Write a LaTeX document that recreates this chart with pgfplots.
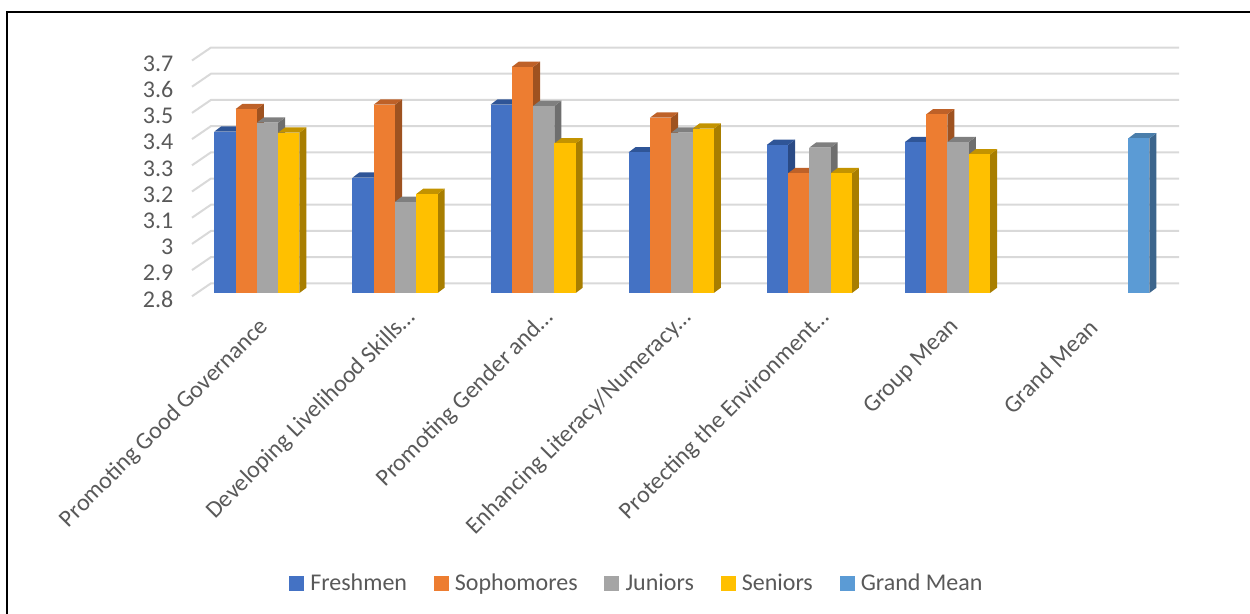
\documentclass[border=0pt]{standalone}
\usepackage{pgfplots}
\pgfplotsset{compat=1.18}
\usepackage{fontspec}
\setmainfont{Carlito}
\definecolor{txt}{HTML}{595959}
\definecolor{gridc}{HTML}{D9D9D9}
\definecolor{blueF}{HTML}{4472C4}\definecolor{blueS}{HTML}{2A4A85}\definecolor{blueT}{HTML}{2F5597}
\definecolor{oranF}{HTML}{ED7D31}\definecolor{oranS}{HTML}{9E5220}\definecolor{oranT}{HTML}{BE6128}
\definecolor{grayF}{HTML}{A5A5A5}\definecolor{grayS}{HTML}{6E6E6E}\definecolor{grayT}{HTML}{7F7F7F}
\definecolor{yellF}{HTML}{FFC000}\definecolor{yellS}{HTML}{A87E00}\definecolor{yellT}{HTML}{C39300}
\definecolor{skyF}{HTML}{5B9BD5}\definecolor{skyS}{HTML}{3C658C}\definecolor{skyT}{HTML}{4A7EAB}

% depth of a bar and its width, in axis units
\def\dX{0.0507}
\def\dY{0.0202}
\def\wX{0.1542}
% truncated category names reach a little further towards the axis
\newcommand{\trunc}{…\kern-9.75pt}

% one bar: #1 left edge, #2 value, #3 front colour, #4 side colour, #5 top colour
\newcommand{\prismbar}[5]{%
  \pgfmathsetmacro{\xa}{#1}%
  \pgfmathsetmacro{\xb}{#1+\wX}%
  \pgfmathsetmacro{\xc}{#1+\wX+\dX}%
  \pgfmathsetmacro{\xd}{#1+\dX}%
  \pgfmathsetmacro{\ya}{#2+\dY}%
  \pgfmathsetmacro{\yb}{2.8+\dY}%
  \addplot[fill=#4,draw=none,forget plot] coordinates {(\xb,2.8) (\xc,\yb) (\xc,\ya) (\xb,#2)} -- cycle;
  \addplot[fill=#5,draw=none,forget plot] coordinates {(\xa,#2) (\xd,\ya) (\xc,\ya) (\xb,#2)} -- cycle;
  \addplot[fill=#3,draw=none,forget plot] coordinates {(\xa,2.8) (\xa,#2) (\xb,#2) (\xb,2.8)} -- cycle;
}
% one series: #1 position within the group, #2-#4 colours, #5 values by category
\newcommand{\seriesbars}[5]{%
  \foreach \v [count=\c from 0] in {#5}{%
    \prismbar{\c+0.1143+#1*\wX}{\v}{#2}{#3}{#4}%
  }%
}
% one wall gridline with its short slanted floor-side stub
\newcommand{\wallgrid}[1]{%
  \pgfmathsetmacro{\yf}{#1-0.0126}%
  \pgfmathsetmacro{\yw}{#1+0.037}%
  \addplot[gridc,line width=1.5pt,forget plot] coordinates {(-0.047,\yf) (0.0904,\yw) (7.099,\yw)};
}

\pgfplotsset{
  legend image code/.code={\fill[#1] (0pt,-5.25pt) rectangle (10.5pt,5.25pt);},
}

\begin{document}
\begin{tikzpicture}
\useasboundingbox (0,0) rectangle (937.5pt,460.5pt);
\draw[black,line width=1.7pt] (5.25pt,0) -- (5.25pt,451.5pt) -- (937.5pt,451.5pt);
\begin{axis}[
  at={(144pt,240.75pt)},anchor=south west,
  scale only axis,
  width=740.25pt,height=184.5pt,
  xmin=-0.047,xmax=7.099,ymin=2.8,ymax=3.739,
  clip=false,
  xtick={0.5,1.5,2.5,3.5,4.5,5.5,6.5},
  xticklabels={Promoting Good Governance,Developing Livelihood Skills\trunc,Promoting Gender and\trunc,Enhancing Literacy/Numeracy\trunc,Protecting the Environment\trunc,Group Mean,Grand Mean},
  ytick={2.8,2.9,3.0,3.1,3.2,3.3,3.4,3.5,3.6,3.7},
  yticklabels={2.8,2.9,3,3.1,3.2,3.3,3.4,3.5,3.6,3.7},
  tick style={draw=none},
  major tick length=0pt,
  axis line style={draw=none},
  xticklabel style={font=\fontsize{18pt}{20pt}\selectfont,text=txt,rotate=45,anchor=east,xshift=-14.1pt,yshift=-14.5pt},
  yticklabel style={font=\fontsize{18pt}{20pt}\selectfont,text=txt,anchor=east,xshift=-10.5pt,yshift=-4.8pt},
  legend style={at={(0.451,-1.179)},anchor=center,draw=none,fill=none,
    font=\fontsize{18pt}{20pt}\selectfont,text=txt,
    /tikz/every even column/.style={column sep=18pt},
    /tikz/every odd column/.style={column sep=3pt}},
  legend columns=5,
]
\addlegendimage{blueF}\addlegendentry{Freshmen}
\addlegendimage{oranF}\addlegendentry{Sophomores}
\addlegendimage{grayF}\addlegendentry{Juniors}
\addlegendimage{yellF}\addlegendentry{Seniors}
\addlegendimage{skyF}\addlegendentry{Grand Mean}

\foreach \g in {2.8,2.9,3.0,3.1,3.2,3.3,3.4,3.5,3.6,3.7}{\wallgrid{\g}}

\seriesbars{0}{blueF}{blueS}{blueT}{3.416,3.240,3.519,3.337,3.365,3.376}
\seriesbars{1}{oranF}{oranS}{oranT}{3.502,3.519,3.663,3.469,3.257,3.482}
\seriesbars{2}{grayF}{grayS}{grayT}{3.450,3.148,3.514,3.412,3.355,3.376}
\seriesbars{3}{yellF}{yellS}{yellT}{3.412,3.178,3.371,3.427,3.257,3.329}
% the overall mean stands alone in the last category
\prismbar{6+0.1143+4*\wX}{3.390}{skyF}{skyS}{skyT}
\end{axis}
\end{tikzpicture}
\end{document}
